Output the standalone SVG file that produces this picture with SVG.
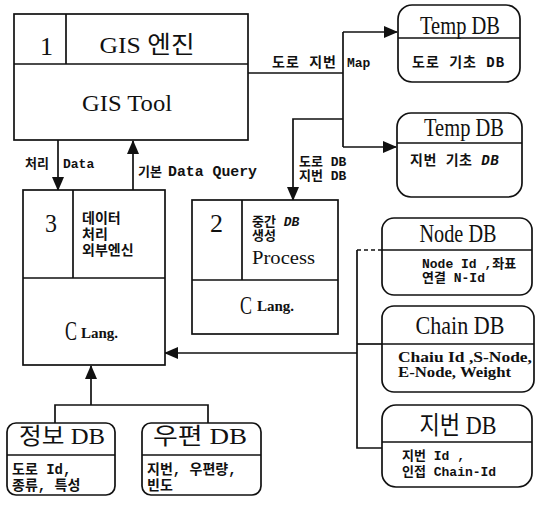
<svg xmlns="http://www.w3.org/2000/svg" width="535" height="507" viewBox="0 0 535 507">
<style>
.b{fill:#fff;stroke:#111;stroke-width:1.7}
.l{fill:none;stroke:#111;stroke-width:1.7}
.t{font-family:"Liberation Serif","Noto Sans CJK KR",serif;fill:#111}
.k{font-family:"Liberation Mono","Noto Sans CJK KR",monospace;font-weight:bold;fill:#111}
.s{font-family:"Liberation Serif","Noto Sans CJK KR",serif;font-weight:bold;fill:#111}
</style>
<defs>
<marker id="ah" markerWidth="14" markerHeight="12" refX="13" refY="6" orient="auto" markerUnits="userSpaceOnUse">
<path d="M0,0 L14,6 L0,12 Z" fill="#111"/>
</marker>
</defs>
<rect width="535" height="507" fill="#fff"/>

<g id="connectors">
<path class="l" d="M248,73 H343"/>
<path class="l" d="M343,32 V147"/>
<path class="l" d="M343,32 H397" marker-end="url(#ah)"/>
<path class="l" d="M343,147 H396" marker-end="url(#ah)"/>
<path class="l" d="M343,119 H293 V200" marker-end="url(#ah)"/>
<path class="l" d="M58,140 V190" marker-end="url(#ah)"/>
<path class="l" d="M133,190 V141" marker-end="url(#ah)"/>
<path class="l" d="M357,250 H382" stroke-dasharray="4,3"/>
<path class="l" d="M357,250 V448 H382"/>
<path class="l" d="M357,344 H382"/>
<path class="l" d="M357,353 H165" marker-end="url(#ah)"/>
<path class="l" d="M55,423 V405 H208 V423"/>
<path class="l" d="M91,405 V366" marker-end="url(#ah)"/>
<text class="k" x="272" y="67" font-size="14" letter-spacing="1">도로 지번</text>
<text class="k" x="347" y="67" font-size="13">Map</text>
<text class="k" x="299" y="166" font-size="13">도로 DB</text>
<text class="k" x="299" y="180" font-size="13">지번 DB</text>
<text class="k" x="25" y="168" font-size="13">처리</text>
<text class="k" x="63" y="168" font-size="13">Data</text>
<text class="k" x="138" y="176" font-size="13">기본</text>
<text class="k" x="168" y="176" font-size="14" textLength="89" lengthAdjust="spacingAndGlyphs">Data Query</text>
</g>

<g id="gis-engine">
<rect class="b" x="14" y="14" width="234" height="126"/>
<path class="l" d="M14,64 H248 M66,14 V64"/>
<text class="t" x="40" y="55" font-size="26">1</text>
<text class="t" x="147" y="53" font-size="24" text-anchor="middle" textLength="95" lengthAdjust="spacingAndGlyphs">GIS 엔진</text>
<text class="t" x="127" y="111" font-size="24" text-anchor="middle" textLength="90" lengthAdjust="spacingAndGlyphs">GIS Tool</text>
</g>

<g id="external-engine">
<rect class="b" x="23" y="190" width="142" height="175"/>
<path class="l" d="M23,278 H165 M73,190 V278"/>
<text class="t" x="45" y="232" font-size="26" textLength="12" lengthAdjust="spacingAndGlyphs">3</text>
<text class="k" x="82" y="223" font-size="14">데이터</text>
<text class="k" x="82" y="239" font-size="14">처리</text>
<text class="k" x="82" y="255" font-size="14">외부엔신</text>
<text class="t" x="65" y="340" font-size="28" textLength="12" lengthAdjust="spacingAndGlyphs">C</text>
<text class="s" x="81" y="338" font-size="15">Lang.</text>
</g>

<g id="middle-db">
<rect class="b" x="192" y="200" width="146" height="134"/>
<path class="l" d="M192,280 H338 M242,200 V280"/>
<text class="t" x="210" y="232" font-size="26" textLength="13" lengthAdjust="spacingAndGlyphs">2</text>
<text class="k" x="252" y="226" font-size="13">중간 <tspan font-style="italic">DB</tspan></text>
<text class="k" x="252" y="240" font-size="13">생성</text>
<text class="t" x="252" y="264" font-size="18" textLength="63" lengthAdjust="spacingAndGlyphs">Process</text>
<text class="t" x="240" y="314" font-size="26" textLength="12" lengthAdjust="spacingAndGlyphs">C</text>
<text class="s" x="257" y="311" font-size="15">Lang.</text>
</g>

<g id="temp-db-1">
<rect class="b" x="398" y="5" width="122" height="77" rx="14"/>
<path class="l" d="M398,38 H520"/>
<text class="t" x="460" y="34" font-size="26" text-anchor="middle" textLength="80" lengthAdjust="spacingAndGlyphs">Temp DB</text>
<text class="k" x="412" y="67" font-size="14" letter-spacing="1">도로 기초 DB</text>
</g>

<g id="temp-db-2">
<rect class="b" x="397" y="113" width="125" height="84" rx="14"/>
<path class="l" d="M397,143 H522"/>
<text class="t" x="464" y="136" font-size="26" text-anchor="middle" textLength="80" lengthAdjust="spacingAndGlyphs">Temp DB</text>
<text class="k" x="410" y="165" font-size="14" letter-spacing="0.5">지번 기초 <tspan font-style="italic">DB</tspan></text>
</g>

<g id="node-db">
<rect class="b" x="382" y="218" width="150" height="77" rx="12"/>
<path class="l" d="M382,250 H532"/>
<text class="t" x="458" y="242" font-size="25" text-anchor="middle" textLength="77" lengthAdjust="spacingAndGlyphs">Node DB</text>
<text class="k" x="422" y="268" font-size="13">Node Id ,좌표</text>
<text class="k" x="422" y="282" font-size="13">연결 N-Id</text>
</g>

<g id="chain-db">
<rect class="b" x="382" y="306" width="152" height="86" rx="12"/>
<path class="l" d="M382,344 H534"/>
<text class="t" x="460" y="334" font-size="25" text-anchor="middle" textLength="89" lengthAdjust="spacingAndGlyphs">Chain DB</text>
<text class="s" x="398" y="362" font-size="14" textLength="134" lengthAdjust="spacingAndGlyphs">Chaiu Id ,S-Node,</text>
<text class="s" x="398" y="377" font-size="14" textLength="113" lengthAdjust="spacingAndGlyphs">E-Node, Weight</text>
</g>

<g id="jibeon-db">
<rect class="b" x="382" y="405" width="150" height="82" rx="14"/>
<path class="l" d="M382,442 H532"/>
<text class="t" x="458" y="434" font-size="25" text-anchor="middle" textLength="77" lengthAdjust="spacingAndGlyphs">지번 DB</text>
<text class="k" x="402" y="460" font-size="13">지번 Id ,</text>
<text class="k" x="402" y="476" font-size="13">인접 Chain-Id</text>
</g>

<g id="info-db">
<rect class="b" x="7" y="423" width="108" height="72" rx="9"/>
<path class="l" d="M7,455 H115"/>
<text class="t" x="62" y="444" font-size="23" text-anchor="middle" textLength="86" lengthAdjust="spacingAndGlyphs">정보 DB</text>
<text class="k" x="12" y="474" font-size="14">도로 Id,</text>
<text class="k" x="12" y="490" font-size="14">종류, 특성</text>
</g>

<g id="postal-db">
<rect class="b" x="142" y="423" width="119" height="72" rx="9"/>
<path class="l" d="M142,455 H261"/>
<text class="t" x="200" y="444" font-size="23" text-anchor="middle" textLength="94" lengthAdjust="spacingAndGlyphs">우편 DB</text>
<text class="k" x="147" y="474" font-size="14">지번, 우편량,</text>
<text class="k" x="147" y="490" font-size="14">빈도</text>
</g>
</svg>
